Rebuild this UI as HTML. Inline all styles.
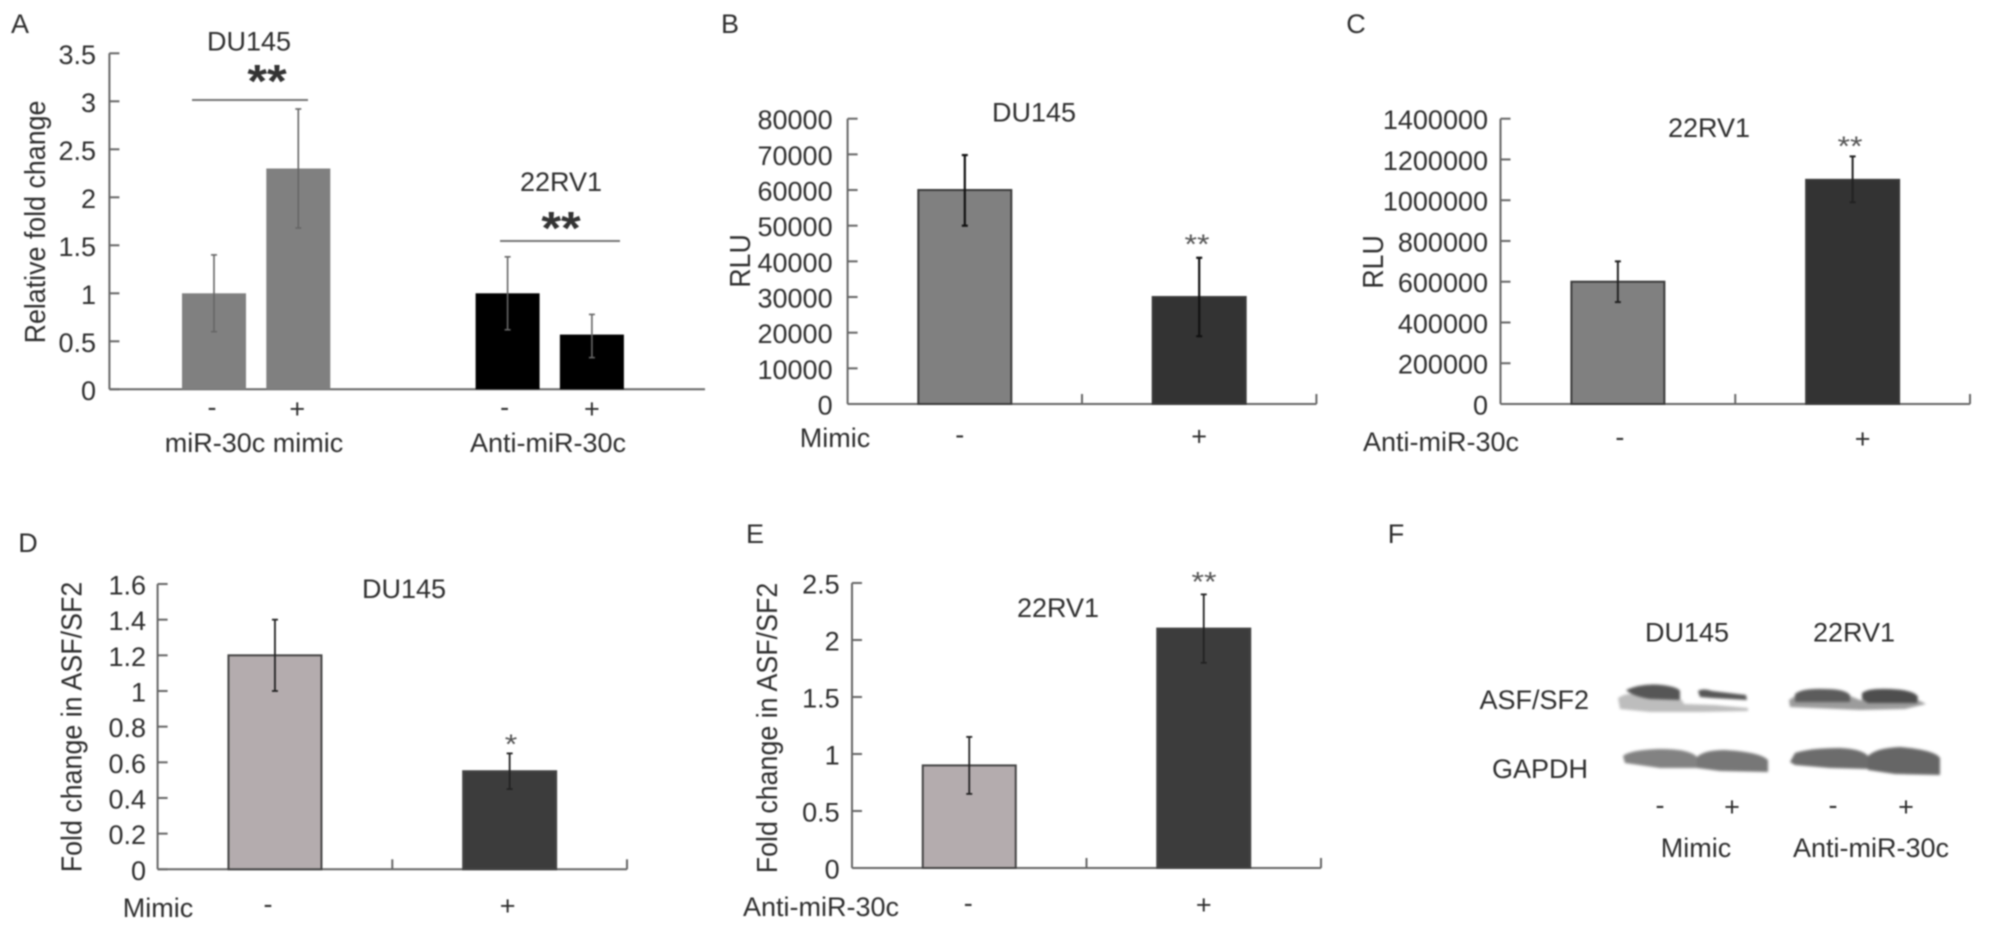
<!DOCTYPE html>
<html lang="en">
<head>
<meta charset="utf-8">
<title>miR-30c multi-panel bar charts and western blot</title>
<style>
html,body{margin:0;padding:0;background:#fff;}
#figure{display:block;width:1992px;height:927px;filter:blur(0.7px);}
text{font-family:"Liberation Sans",Arial,sans-serif;fill:#2e2e2e;font-size:27px;}
.r{font-size:26.8px;}
.s{font-size:28px;fill:#555;}
.bs{font-size:46px;font-weight:bold;fill:#333;}
.m{text-anchor:middle;}
.e{text-anchor:end;}
</style>
</head>
<body>
<svg id="figure" xmlns="http://www.w3.org/2000/svg" width="1992" height="927" viewBox="0 0 1992 927">
  <rect width="1992" height="927" fill="#fff"/>

  <g id="panel-a">
    <text transform="translate(11,33)">A</text>
    <text class="m" transform="translate(249,50.5)">DU145</text>
    <text class="m" transform="translate(561,191)">22RV1</text>
    <line x1="192" x2="308" y1="100" y2="100" stroke="#777" stroke-width="2"/>
    <line x1="500" x2="620" y1="241" y2="241" stroke="#777" stroke-width="2"/>
    <text class="m bs" transform="translate(267,97) scale(1.1,1)">**</text>
    <text class="m bs" transform="translate(561,244) scale(1.1,1)">**</text>
    <text class="m r" transform="translate(45,222) scale(1.07,1) rotate(-90)">Relative fold change</text>
    <text class="m" transform="translate(254,452)">miR-30c mimic</text>
    <text class="m" transform="translate(548,452)">Anti-miR-30c</text>
  </g>

  <g id="panel-b">
    <text class="m" transform="translate(730,33)">B</text>
    <text class="m" transform="translate(1034,121.5)">DU145</text>
    <text class="m s" transform="translate(1197,253.5) scale(1.15,1)">**</text>
    <text class="m r" transform="translate(750,261) scale(1.07,1) rotate(-90)">RLU</text>
    <text class="m" transform="translate(835,447)">Mimic</text>
  </g>

  <g id="panel-c">
    <text class="m" transform="translate(1356,33)">C</text>
    <text class="m" transform="translate(1709,137)">22RV1</text>
    <text class="m s" transform="translate(1850,155.5) scale(1.15,1)">**</text>
    <text class="m r" transform="translate(1383,262) scale(1.07,1) rotate(-90)">RLU</text>
    <text class="m" transform="translate(1441,451)">Anti-miR-30c</text>
  </g>

  <g id="panel-d">
    <text class="m" transform="translate(28,552)">D</text>
    <text class="m" transform="translate(404,598)">DU145</text>
    <text class="m s" transform="translate(511,753.5) scale(1.15,1)">*</text>
    <text class="m r" transform="translate(81.5,727) scale(1.07,1) rotate(-90)">Fold change in ASF/SF2</text>
    <text class="m" transform="translate(158,917)">Mimic</text>
  </g>

  <g id="panel-e">
    <text class="m" transform="translate(755,543)">E</text>
    <text class="m" transform="translate(1058,617)">22RV1</text>
    <text class="m s" transform="translate(1204,591) scale(1.15,1)">**</text>
    <text class="m r" transform="translate(777,728) scale(1.07,1) rotate(-90)">Fold change in ASF/SF2</text>
    <text class="m" transform="translate(821,916)">Anti-miR-30c</text>
  </g>

  <g id="panel-f">
    <text class="m" transform="translate(1396,543)">F</text>
    <text class="m" transform="translate(1687,641.5)">DU145</text>
    <text class="m" transform="translate(1854,641.5)">22RV1</text>
    <text class="e" transform="translate(1589,709)">ASF/SF2</text>
    <text class="e" transform="translate(1588,778)">GAPDH</text>
    <g style="filter:blur(1.3px)">
      <path d="M1618,698 Q1625,693 1635,694 L1682,700 L1684,704 L1715,705 L1748,708 L1748,711 L1700,712 L1650,712 L1620,709 Z" fill="#bdbdbd"/>
      <path d="M1626,690 Q1642,683 1662,685 Q1678,687 1680,691 L1680,700 L1650,699 Q1632,696 1626,690 Z" fill="#565656"/>
      <path d="M1698,691 Q1703,688 1712,691 L1746,695 L1747,700 L1712,698 L1700,697 Z" fill="#565656"/>
      <path d="M1789,700 L1795,696 L1850,696 L1860,700 L1918,700 L1926,704 L1905,709 L1860,710 L1790,707 Z" fill="#9c9c9c"/>
      <path d="M1795,694 Q1802,688 1825,689 Q1845,689 1850,695 L1850,702 L1795,702 Z" fill="#5c5c5c"/>
      <path d="M1862,693 Q1868,688 1890,689 Q1915,690 1918,697 L1917,703 L1868,703 L1862,699 Z" fill="#4e4e4e"/>
    </g>
    <g style="filter:blur(1.3px)">
      <path d="M1623,756 Q1630,750 1660,749 Q1690,749 1697,757 L1697,768 L1660,768 L1625,763 Z" fill="#828282"/>
      <path d="M1697,757 Q1704,750 1725,750 Q1760,752 1768,760 L1768,772 L1720,771 L1697,768 Z" fill="#777"/>
      <path d="M1790,762 L1795,753 Q1810,748 1840,748 Q1862,749 1868,756 L1868,769 L1830,768 L1795,765 Z" fill="#6c6c6c"/>
      <path d="M1868,756 Q1876,748 1900,747 Q1935,750 1940,758 L1940,775 L1895,774 L1868,770 Z" fill="#666"/>
    </g>
    <text class="m" transform="translate(1660,814)">-</text>
    <text class="m" transform="translate(1732,816)">+</text>
    <text class="m" transform="translate(1833,814)">-</text>
    <text class="m" transform="translate(1906,816)">+</text>
    <text class="m" transform="translate(1696,857)">Mimic</text>
    <text class="m" transform="translate(1871,857)">Anti-miR-30c</text>
  </g>
</svg>

<script>
// Panel A data
const aCategories = ['-', '+', '-', '+'];
const aValues = [1, 2.3, 1, 0.57];
const aErrHigh = [1.4, 2.92, 1.38, 0.78];
const aErrLow = [0.6, 1.68, 0.62, 0.33];
const aTicks = [0, 0.5, 1, 1.5, 2, 2.5, 3, 3.5];
const aTickLabels = ['0', '0.5', '1', '1.5', '2', '2.5', '3', '3.5'];

// Panel B data
const bCategories = ['-', '+'];
const bValues = [60000, 30000];
const bErrHigh = [69800, 41000];
const bErrLow = [50000, 19000];
const bTicks = [0, 10000, 20000, 30000, 40000, 50000, 60000, 70000, 80000];
const bTickLabels = ['0', '10000', '20000', '30000', '40000', '50000', '60000', '70000', '80000'];

// Panel C data
const cCategories = ['-', '+'];
const cValues = [600000, 1100000];
const cErrHigh = [700000, 1215000];
const cErrLow = [500000, 990000];
const cTicks = [0, 200000, 400000, 600000, 800000, 1000000, 1200000, 1400000];
const cTickLabels = ['0', '200000', '400000', '600000', '800000', '1000000', '1200000', '1400000'];

// Panel D data
const dCategories = ['-', '+'];
const dValues = [1.2, 0.55];
const dErrHigh = [1.4, 0.65];
const dErrLow = [1.0, 0.45];
const dTicks = [0, 0.2, 0.4, 0.6, 0.8, 1, 1.2, 1.4, 1.6];
const dTickLabels = ['0', '0.2', '0.4', '0.6', '0.8', '1', '1.2', '1.4', '1.6'];

// Panel E data
const eCategories = ['-', '+'];
const eValues = [0.9, 2.1];
const eErrHigh = [1.15, 2.4];
const eErrLow = [0.65, 1.8];
const eTicks = [0, 0.5, 1, 1.5, 2, 2.5];
const eTickLabels = ['0', '0.5', '1', '1.5', '2', '2.5'];

const SVG_NS = 'http://www.w3.org/2000/svg';

function line(parent, name, x1, y1, x2, y2, color, width) {
  const el = document.createElementNS(SVG_NS, 'line');
  
  
  el.setAttribute('x1', x1);
  el.setAttribute('y1', y1);
  el.setAttribute('x2', x2);
  el.setAttribute('y2', y2);
  el.setAttribute('stroke', color);
  el.setAttribute('stroke-width', width);
  parent.appendChild(el);
}

function label(parent, name, x, y, str, cls) {
  const el = document.createElementNS(SVG_NS, 'text');
  
  
  el.setAttribute('class', cls);
  el.setAttribute('transform', 'translate(' + x + ',' + y + ')');
  el.textContent = str;
  parent.appendChild(el);
}

function bar(parent, name, x, y, w, h, fill, stroke) {
  const el = document.createElementNS(SVG_NS, 'rect');
  
  
  el.setAttribute('x', x);
  el.setAttribute('y', y);
  el.setAttribute('width', w);
  el.setAttribute('height', h);
  el.setAttribute('fill', fill);
  if (stroke) {
    el.setAttribute('stroke', stroke);
    el.setAttribute('stroke-width', 2);
  }
  parent.appendChild(el);
}

function drawPanel(id, o, categories, values, errHigh, errLow, ticks, tickLabels) {
  const g = document.getElementById(id);
  const top = ticks[ticks.length - 1];
  const yScale = function (v) { return o.y0 - (v / top) * (o.y0 - o.yTop); };
  const axisColor = '#666';

  line(g, 'y-axis', o.axisX, o.yTop, o.axisX, o.y0, axisColor, 2);
  line(g, 'x-axis', o.axisX, o.y0, o.xEnd, o.y0, axisColor, 2);

  ticks.forEach(function (t, i) {
    line(g, 'y-tick', o.axisX, yScale(t), o.axisX + 10, yScale(t), axisColor, 2);
    label(g, 'y-tick-label', o.labelRight, yScale(t) + 10.5, tickLabels[i], 'e');
  });

  if (o.xTicks) {
    const step = (o.xEnd - o.axisX) / categories.length;
    categories.forEach(function (c, i) {
      const tx = o.axisX + (i + 1) * step;
      line(g, 'x-tick', tx, o.y0 - 10, tx, o.y0, axisColor, 2);
    });
  }

  categories.forEach(function (c, i) {
    const cx = o.xScale(i);
    bar(g, 'bar', cx - o.barW / 2, yScale(values[i]), o.barW, o.y0 - yScale(values[i]), o.fills[i], o.stroke);
  });

  categories.forEach(function (c, i) {
    const cx = o.xScale(i);
    line(g, 'error-bar', cx, yScale(errHigh[i]), cx, yScale(errLow[i]), o.errColor, o.errW);
    line(g, 'error-cap-high', cx - 3, yScale(errHigh[i]), cx + 3, yScale(errHigh[i]), o.errColor, o.errW);
    line(g, 'error-cap-low', cx - 3, yScale(errLow[i]), cx + 3, yScale(errLow[i]), o.errColor, o.errW);
    const yc = o.catY + (c === '+' ? 9 : 7);
    label(g, 'x-category-label', cx + o.shift[i], yc, c, 'm');
  });
}

function pairScale(axisX, xEnd) {
  return function (i) { return axisX + (i + 0.5) * (xEnd - axisX) / 2; };
}

drawPanel('panel-a', {
  axisX: 109.4, xEnd: 705, y0: 389.3, yTop: 53.3, labelRight: 96, barW: 64,
  xScale: function (i) { return 214 + i * 84.3 + (i > 1 ? 125 : 0); },
  fills: ['#808080', '#808080', '#000', '#000'], stroke: null,
  errColor: '#666', errW: 1.6, catY: 409, shift: [-2, -1, -3, 0], xTicks: false
}, aCategories, aValues, aErrHigh, aErrLow, aTicks, aTickLabels);

drawPanel('panel-b', {
  axisX: 847.6, xEnd: 1316.4, y0: 404, yTop: 118.7, labelRight: 832.6, barW: 93,
  xScale: pairScale(847.6, 1316.4),
  fills: ['#808080', '#333'], stroke: '#3a3a3a',
  errColor: '#111', errW: 2.2, catY: 436.7, shift: [-5, 0], xTicks: true
}, bCategories, bValues, bErrHigh, bErrLow, bTicks, bTickLabels);

drawPanel('panel-c', {
  axisX: 1500.5, xEnd: 1970, y0: 404, yTop: 118.7, labelRight: 1488, barW: 93,
  xScale: pairScale(1500.5, 1970),
  fills: ['#808080', '#333'], stroke: '#3a3a3a',
  errColor: '#222', errW: 2, catY: 439, shift: [2, 10], xTicks: true
}, cCategories, cValues, cErrHigh, cErrLow, cTicks, cTickLabels);

drawPanel('panel-d', {
  axisX: 157.6, xEnd: 627, y0: 869.3, yTop: 584, labelRight: 146, barW: 93,
  xScale: pairScale(157.6, 627),
  fills: ['#b4acae', '#3c3c3c'], stroke: '#444',
  errColor: '#222', errW: 1.8, catY: 906, shift: [-7, -2], xTicks: true
}, dCategories, dValues, dErrHigh, dErrLow, dTicks, dTickLabels);

drawPanel('panel-e', {
  axisX: 852, xEnd: 1321, y0: 868, yTop: 583, labelRight: 839.7, barW: 93,
  xScale: pairScale(852, 1321),
  fills: ['#b4acae', '#3c3c3c'], stroke: '#444',
  errColor: '#222', errW: 1.8, catY: 905, shift: [-1, 0], xTicks: true
}, eCategories, eValues, eErrHigh, eErrLow, eTicks, eTickLabels);
</script>
</body>
</html>
